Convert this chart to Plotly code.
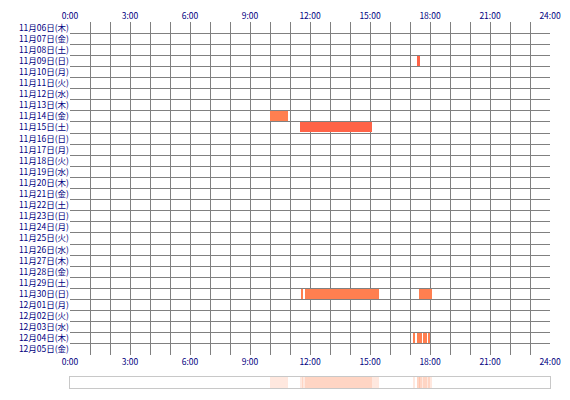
import plotly.graph_objects as go

# Rows (dates)
dates = ["11月06日(木)", "11月07日(金)", "11月08日(土)", "11月09日(日)", "11月10日(月)",
         "11月11日(火)", "11月12日(水)", "11月13日(木)", "11月14日(金)", "11月15日(土)",
         "11月16日(日)", "11月17日(月)", "11月18日(火)", "11月19日(水)", "11月20日(木)",
         "11月21日(金)", "11月22日(土)", "11月23日(日)", "11月24日(月)", "11月25日(火)",
         "11月26日(水)", "11月27日(木)", "11月28日(金)", "11月29日(土)", "11月30日(日)",
         "12月01日(月)", "12月02日(火)", "12月03日(水)", "12月04日(木)", "12月05日(金)"]

# Activity segments: row index, start hour, end hour
seg_row = [3, 8, 9, 24, 24, 24, 28, 28, 28, 28]
seg_start = [17.35, 10.0, 11.5, 11.58, 11.75, 17.45, 17.17, 17.33, 17.65, 17.9]
seg_end = [17.5, 10.9, 15.08, 11.65, 15.45, 18.1, 17.25, 17.6, 17.85, 18.0]
seg_color = ["#FF6347", "#FF7F50", "#FF6347", "#FF7F50", "#FF7F50", "#FF7F50",
             "#FF7F50", "#FF7F50", "#FF7F50", "#FF7F50"]

hour_ticks = list(range(0, 25, 3))
hour_labels = [f"{h}:00" for h in hour_ticks]

fig = go.Figure()

fig.add_trace(go.Bar(
    orientation="h",
    y=[r + 0.5 for r in seg_row],
    base=seg_start,
    x=[e - s for s, e in zip(seg_start, seg_end)],
    width=0.9,
    marker=dict(color=seg_color, line=dict(width=0)),
    xaxis="x", yaxis="y",
    hoverinfo="skip",
))

# Summary strip
fig.add_trace(go.Bar(
    orientation="h",
    y=[0.5] * len(seg_start),
    base=seg_start,
    x=[e - s for s, e in zip(seg_start, seg_end)],
    width=1,
    marker=dict(color="rgba(255,127,80,0.18)", line=dict(width=0)),
    xaxis="x3", yaxis="y3",
    hoverinfo="skip",
))

# invisible trace for top axis
fig.add_trace(go.Scatter(x=[0, 24], y=[0, 0], mode="markers", marker=dict(opacity=0),
                         xaxis="x2", yaxis="y", hoverinfo="skip", showlegend=False))

tick_font = dict(family="Noto Sans CJK JP", size=8.5, color="#000080")
grid = "#808080"

# page body adds 8px offset, so margins are shifted accordingly
fig.update_layout(
    width=570, height=400,
    margin=dict(l=62, r=28, t=14, b=20),
    paper_bgcolor="white", plot_bgcolor="white",
    showlegend=False, barmode="overlay", bargap=0,
    xaxis=dict(range=[0, 24], anchor="y", tickvals=hour_ticks, ticktext=hour_labels,
               showgrid=False, ticks="", tickfont=tick_font, zeroline=False, automargin=False,
               minor=dict(tickvals=list(range(0, 25)), showgrid=True, gridcolor=grid, gridwidth=1),
               showline=False),
    xaxis2=dict(range=[0, 24], overlaying="x", side="top", anchor="y", automargin=False,
                tickvals=hour_ticks, ticktext=hour_labels, showgrid=False, ticks="",
                tickfont=tick_font, zeroline=False),
    yaxis=dict(range=[30, 0], domain=[0.09, 1], tickvals=[i + 0.5 for i in range(30)],
               ticktext=dates, showgrid=False, ticks="", tickfont=tick_font, zeroline=False,
               automargin=False, ticklabelstandoff=0,
               minor=dict(tickvals=list(range(0, 31)), showgrid=True, gridcolor=grid, gridwidth=1)),
    xaxis3=dict(range=[0, 24], anchor="y3", showticklabels=False, showgrid=False, automargin=False,
                zeroline=False, showline=True, mirror=True, linecolor="#C8C8C8"),
    yaxis3=dict(range=[0, 1], domain=[0, 0.03], showticklabels=False, showgrid=False, automargin=False,
                zeroline=False, showline=True, mirror=True, linecolor="#C8C8C8"),
)

fig.write_html("out.html")
